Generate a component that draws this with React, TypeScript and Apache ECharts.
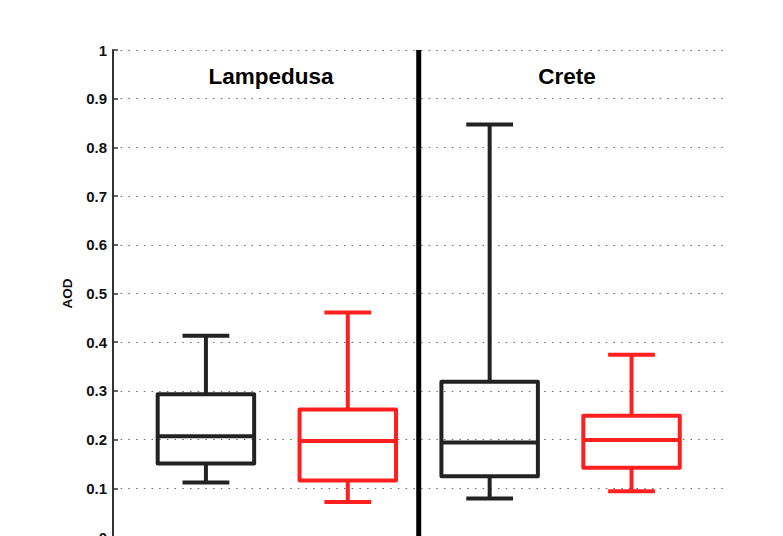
import React, { useEffect, useRef } from "react";
import * as echarts from "echarts";

// Box positions on the x scale
const blackPositions = [1, 3];
const redPositions = [2, 4];
// [min, q1, median, q3, max]
const blackStats = [
  [0.112, 0.151, 0.207, 0.293, 0.413],
  [0.079, 0.125, 0.194, 0.319, 0.847],
];
const redStats = [
  [0.072, 0.116, 0.197, 0.262, 0.461],
  [0.094, 0.142, 0.199, 0.249, 0.374],
];
const sites = ["Lampedusa", "Crete"];
const dividerPositions = [2.5];
const yTicks = [0, 0.1, 0.2, 0.3, 0.4, 0.5, 0.6, 0.7, 0.8, 0.9, 1];

const BOX_W = 0.68;
const CAP_W = 0.33;

function boxRenderer(color: string) {
  return (params: any, api: any) => {
    const x = api.value(0);
    const mn = api.value(1);
    const q1 = api.value(2);
    const md = api.value(3);
    const q3 = api.value(4);
    const mx = api.value(5);
    const half = api.size([BOX_W, 0])[0] / 2;
    const capHalf = api.size([CAP_W, 0])[0] / 2;
    const pMin = api.coord([x, mn]);
    const pQ1 = api.coord([x, q1]);
    const pMd = api.coord([x, md]);
    const pQ3 = api.coord([x, q3]);
    const pMax = api.coord([x, mx]);
    const cx = pMd[0];
    const style = { stroke: color, lineWidth: 4, fill: "none", lineJoin: "round", lineCap: "butt" };
    return {
      type: "group",
      children: [
        { type: "line", shape: { x1: cx, y1: pQ3[1], x2: cx, y2: pMax[1] }, style },
        { type: "line", shape: { x1: cx, y1: pQ1[1], x2: cx, y2: pMin[1] }, style },
        { type: "line", shape: { x1: cx - capHalf, y1: pMax[1], x2: cx + capHalf, y2: pMax[1] }, style },
        { type: "line", shape: { x1: cx - capHalf, y1: pMin[1], x2: cx + capHalf, y2: pMin[1] }, style },
        {
          type: "rect",
          shape: { x: cx - half, y: pQ3[1], width: half * 2, height: pQ1[1] - pQ3[1] },
          style: { ...style, fill: "rgba(0,0,0,0)" },
        },
        { type: "line", shape: { x1: cx - half, y1: pMd[1], x2: cx + half, y2: pMd[1] }, style },
      ],
    };
  };
}

export default function App() {
  const ref = useRef<HTMLDivElement>(null);
  useEffect(() => {
    if (!ref.current) return;
    const chart = echarts.init(ref.current, null, { renderer: "svg" });
    const font = "'Liberation Sans', Arial, Helvetica, sans-serif";
    const titleStyle = {
      fontFamily: font,
      fontWeight: "bold",
      fontSize: 22.5,
      fill: "#000",
      align: "center",
      verticalAlign: "middle",
    };
    chart.setOption({
      animation: false,
      backgroundColor: "#ffffff",
      grid: { left: 113, right: 55, top: 50, bottom: 23 },
      xAxis: {
        type: "value",
        min: 0.345,
        max: 4.68,
        show: false,
      },
      yAxis: {
        type: "value",
        min: yTicks[0],
        max: yTicks[yTicks.length - 1],
        interval: 0.1,
        name: "AOD",
        nameLocation: "middle",
        nameRotate: 90,
        nameGap: 39,
        nameTextStyle: { fontFamily: font, fontWeight: "bold", fontSize: 13.5, color: "#111" },
        axisLine: { show: true, lineStyle: { color: "#333", width: 2 } },
        axisTick: { show: true, inside: true, length: 5, lineStyle: { color: "#333", width: 1.5 } },
        axisLabel: {
          margin: 6,
          fontFamily: font,
          fontWeight: "bold",
          fontSize: 15,
          color: "#111",
          formatter: (v: number) => String(+v.toFixed(1)),
        },
        splitLine: { show: true, lineStyle: { color: "#666", width: 1, type: [1.5, 6.2] } },
      },
      graphic: [
        { type: "text", x: 271, y: 76, style: { ...titleStyle, text: sites[0] } },
        { type: "text", x: 567, y: 76, style: { ...titleStyle, text: sites[1] } },
      ],
      series: [
        {
          type: "custom",
          name: "divider",
          data: dividerPositions.map((p) => [p]),
          renderItem: (params: any, api: any) => {
            const x = api.value(0);
            const top = api.coord([x, yTicks[yTicks.length - 1]]);
            const bot = api.coord([x, yTicks[0]]);
            return {
              type: "line",
              shape: { x1: top[0], y1: top[1], x2: bot[0], y2: bot[1] },
              style: { stroke: "#000", lineWidth: 5 },
            };
          },
          z: 3,
        },
        {
          type: "custom",
          name: "black",
          data: blackStats.map((s, i) => [blackPositions[i], ...s]),
          renderItem: boxRenderer("#222222"),
          z: 4,
        },
        {
          type: "custom",
          name: "red",
          data: redStats.map((s, i) => [redPositions[i], ...s]),
          renderItem: boxRenderer("#ff1f1f"),
          z: 4,
        },
      ],
    });
    return () => chart.dispose();
  }, []);
  return (
    <div
      ref={ref}
      style={{ position: "fixed", left: 0, top: 0, width: 783, height: 560, background: "#fff" }}
    />
  );
}
